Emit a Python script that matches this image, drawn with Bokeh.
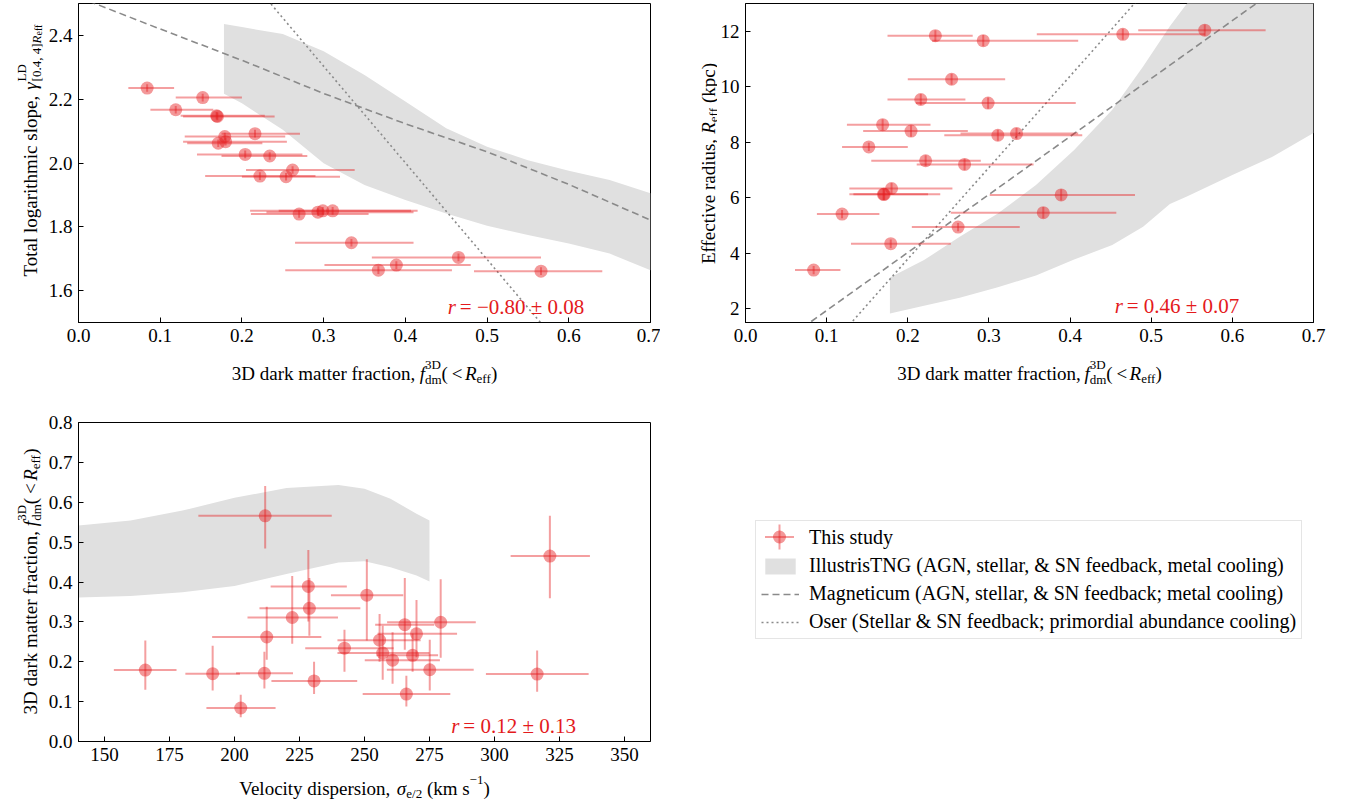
import math
from bokeh.plotting import figure
from bokeh.models import (Range1d, FixedTicker, PrintfTickFormatter, Label,
                          Legend, LegendItem, ColumnDataSource, Spacer)
from bokeh.layouts import row, column
from bokeh.embed import file_html
from bokeh.resources import INLINE
from bokeh.core.properties import value

FONT = "Liberation Serif"
RED = "#e41a1c"
BAND = "#e0e0e0"
GRAYLINE = "#8a8a8a"

# ---------------- data (one entry per galaxy) ----------------
fdm = [0.084, 0.119, 0.152, 0.169, 0.170, 0.171, 0.179, 0.180, 0.204, 0.216, 0.222, 0.234,
       0.254, 0.262, 0.270, 0.293, 0.299, 0.311, 0.334, 0.367, 0.389, 0.465, 0.566]
fdm_lo = [0.061, 0.088, 0.119, 0.125, 0.128, 0.133, 0.130, 0.128, 0.145, 0.175, 0.155, 0.175,
          0.200, 0.205, 0.211, 0.230, 0.210, 0.245, 0.265, 0.253, 0.301, 0.359, 0.484]
fdm_hi = [0.117, 0.165, 0.200, 0.228, 0.240, 0.225, 0.253, 0.255, 0.274, 0.271, 0.290, 0.280,
          0.320, 0.338, 0.355, 0.410, 0.407, 0.415, 0.410, 0.457, 0.480, 0.566, 0.641]
gamma = [2.235, 2.167, 2.205, 2.148, 2.146, 2.062, 2.083, 2.067, 2.027, 2.092, 1.959, 2.022,
         1.957, 1.978, 1.840, 1.846, 1.850, 1.850, 1.750, 1.664, 1.680, 1.704, 1.661]
gamma_err = [0.012, 0.012, 0.012, 0.012, 0.012, 0.012, 0.012, 0.012, 0.012, 0.012, 0.012, 0.012,
             0.012, 0.012, 0.012, 0.012, 0.012, 0.012, 0.012, 0.012, 0.012, 0.012, 0.012]
reff = [3.39, 5.41, 7.83, 8.63, 6.12, 6.12, 4.34, 6.33, 8.40, 9.54, 7.33, 11.84,
        10.27, 4.94, 7.20, 11.66, 9.41, 8.25, 8.31, 5.46, 6.10, 11.89, 12.04]
reff_err = [0.15, 0.15, 0.15, 0.2, 0.2, 0.2, 0.15, 0.2, 0.2, 0.2, 0.2, 0.2,
            0.2, 0.15, 0.2, 0.2, 0.2, 0.2, 0.2, 0.2, 0.2, 0.2, 0.2]
sigma = [202.4, 266.1, 230.6, 316.4, 191.6, 211.5, 165.7, 275.1, 260.8, 268.5, 257.0, 242.3,
         255.8, 212.4, 270.0, 265.5, 279.3, 222.2, 228.8, 250.9, 228.4, 321.3, 211.8]
sigma_lo = [189.2, 249.3, 214.2, 296.7, 181.1, 200.6, 153.6, 258.6, 250.1, 254.6, 239.6, 227.2,
            239.6, 191.4, 255.0, 254.1, 258.7, 205.0, 209.6, 237.1, 213.9, 306.2, 186.1]
sigma_hi = [215.8, 283.0, 247.2, 336.2, 202.1, 222.5, 177.7, 292.0, 279.0, 278.3, 275.0, 261.2,
            271.6, 233.4, 285.6, 276.8, 292.8, 239.8, 248.4, 264.9, 243.2, 336.7, 237.4]

# ---------------- tick labels ----------------
fdm_xticks = [0.0, 0.1, 0.2, 0.3, 0.4, 0.5, 0.6, 0.7]
gamma_ticks = [1.6, 1.8, 2.0, 2.2, 2.4]
reff_ticks = [2, 4, 6, 8, 10, 12]
sigma_ticks = [150, 175, 200, 225, 250, 275, 300, 325, 350]
fdm_yticks = [0.0, 0.1, 0.2, 0.3, 0.4, 0.5, 0.6, 0.7, 0.8]

# ---------------- simulation curves ----------------
tng1_x = [0.178, 0.2, 0.25, 0.3, 0.35, 0.4, 0.45, 0.5, 0.55, 0.6, 0.65, 0.7]
tng1_hi = [2.436, 2.426, 2.404, 2.350, 2.276, 2.193, 2.109, 2.051, 2.009, 1.976, 1.947, 1.905]
tng1_lo = [2.217, 2.187, 2.104, 1.999, 1.931, 1.884, 1.842, 1.803, 1.774, 1.748, 1.716, 1.664]
mag1_x = [0.0, 0.1, 0.2, 0.3, 0.4, 0.5, 0.6, 0.7]
mag1_y = [2.52, 2.42, 2.322, 2.218, 2.123, 2.035, 1.933, 1.821]
oser1_x = [0.2, 0.6]
oser1_y = [2.606, 1.395]

tng2_x = [0.178, 0.22, 0.264, 0.311, 0.358, 0.405, 0.452, 0.49, 0.523, 0.544, 0.6, 0.65, 0.7]
tng2_hi = [3.12, 3.75, 4.59, 5.43, 6.46, 7.72, 9.17, 10.73, 12.18, 13.0, 14.5, 15.5, 16.5]
tng2_lo = [1.82, 2.10, 2.39, 2.77, 3.19, 3.77, 4.29, 4.95, 5.77, 6.04, 6.82, 7.48, 8.33]
mag2_x = [0.07, 0.65]
mag2_y = [1.306, 13.43]
oser2_x = [0.12, 0.5]
oser2_y = [1.15, 13.68]

tng3_x = [140, 160, 180, 200, 220, 240, 250, 260, 270, 275]
tng3_hi = [0.542, 0.554, 0.579, 0.611, 0.636, 0.643, 0.634, 0.609, 0.571, 0.554]
tng3_lo = [0.361, 0.365, 0.374, 0.390, 0.420, 0.449, 0.452, 0.437, 0.416, 0.401]

r_texts = ["= \u22120.80 \u00b1 0.08", "= 0.46 \u00b1 0.07", "= 0.12 \u00b1 0.13"]

legend_labels = ["This study",
                 "IllustrisTNG (AGN, stellar, & SN feedback, metal cooling)",
                 "Magneticum (AGN, stellar, & SN feedback; metal cooling)",
                 "Oser (Stellar & SN feedback; primordial abundance cooling)"]

# ---------------- text metrics (Times / Liberation Serif) ----------------
ROMAN = {' ': 250, '\u2009': 167, '(': 333, ')': 333, ',': 250, '.': 250, '/': 278, ';': 278,
         '<': 564, '=': 564, '[': 333, ']': 333, '&': 778, '\u00b1': 564, '\u2212': 564, '-': 333}
for ch in "0123456789":
    ROMAN[ch] = 500
ROMAN.update(dict(zip("ABCDEFGHIJKLMNOPQRSTUVWXYZ",
                      [722, 667, 667, 722, 611, 556, 722, 722, 333, 389, 722, 611, 889, 722,
                       722, 556, 722, 667, 556, 611, 722, 722, 944, 722, 722, 611])))
ROMAN.update(dict(zip("abcdefghijklmnopqrstuvwxyz",
                      [444, 500, 444, 500, 444, 333, 500, 500, 278, 278, 500, 278, 778, 500,
                       500, 500, 500, 333, 389, 278, 500, 500, 722, 500, 500, 444])))
ITALIC = {'f': 278, 'r': 389, 'R': 611, '\u03b3': 440, '\u03c3': 500}
WS = ' \u2009'


def tw(s, italic, size):
    tbl = ITALIC if italic else ROMAN
    return sum(tbl.get(ch, ROMAN.get(ch, 500)) for ch in s) * size / 1000.0


def put(s, x, y, text, italic, size, angle, color="black"):
    s.text(x=[x], y=[y], text=[text], angle=angle, text_font=value(FONT),
           text_font_size=f"{size}px", text_font_style="italic" if italic else "normal",
           text_color=color, text_align="left", text_baseline="alphabetic")


def place(s, items, cx, cy, rotated=False, color="black"):
    """items: groups; each group is a list of runs; each run a list of pieces
    (text, italic, size, dy). A group advances by its widest run.
    Coordinates are pixels inside the strip's frame (origin bottom-left)."""
    def run_w(run):
        return sum(tw(t, it, sz) for (t, it, sz, dy) in run)
    total = sum(max(run_w(r) for r in g) for g in items)
    pos = -total / 2.0
    for g in items:
        for run in g:
            q = pos
            for (t, it, sz, dy) in run:
                shown = t.strip(WS)
                lead = t[:len(t) - len(t.lstrip(WS))]
                off = q + tw(lead, False, sz)
                if shown:
                    if rotated:
                        put(s, cx - dy, cy + off, shown, it, sz, math.pi / 2, color)
                    else:
                        put(s, cx + off, cy + dy, shown, it, sz, 0, color)
                q += tw(t, it, sz)
        pos += max(run_w(r) for r in g)


def strip(w, h, left=0, right=0):
    fw = w - left - right
    s = figure(width=w, height=h, x_range=Range1d(0, fw), y_range=Range1d(0, h),
               x_axis_type=None, y_axis_type=None, min_border=0,
               min_border_left=left, min_border_right=right,
               min_border_top=0, min_border_bottom=0,
               output_backend="svg", toolbar_location=None)
    s.outline_line_color = None
    s.grid.visible = False
    return s


def style(p, xt, yt, xfmt, yfmt):
    p.xaxis.ticker = FixedTicker(ticks=xt)
    p.yaxis.ticker = FixedTicker(ticks=yt)
    p.xaxis.formatter = PrintfTickFormatter(format=xfmt)
    p.yaxis.formatter = PrintfTickFormatter(format=yfmt)
    for ax in (p.xaxis[0], p.yaxis[0]):
        ax.axis_line_color = "black"
        ax.major_tick_line_color = "black"
        ax.major_tick_in = 5
        ax.major_tick_out = 0
        ax.minor_tick_in = 0
        ax.minor_tick_out = 0
        ax.major_label_text_font = FONT
        ax.major_label_text_font_size = "19px"
        ax.major_label_text_color = "black"
        ax.major_label_standoff = 6
    p.grid.visible = False
    p.outline_line_color = "black"
    p.outline_line_alpha = 1


def points(p, x, y, xlo, xhi, ylo, yhi):
    src = ColumnDataSource(dict(x=x, y=y, xlo=xlo, xhi=xhi, ylo=ylo, yhi=yhi))
    p.segment(x0="xlo", y0="y", x1="xhi", y1="y", source=src,
              line_color=RED, line_alpha=0.42, line_width=2)
    p.segment(x0="x", y0="ylo", x1="x", y1="yhi", source=src,
              line_color=RED, line_alpha=0.42, line_width=2)
    p.scatter("x", "y", source=src, size=13, fill_color=RED, fill_alpha=0.45,
              line_color=None)


def r_label(p, x, y, txt):
    p.add_layout(Label(x=x, y=y, text="r", text_font=FONT, text_font_style="italic",
                       text_font_size="21px", text_color=RED, text_baseline="alphabetic"))
    p.add_layout(Label(x=x, y=y, x_offset=12, text=txt, text_font=FONT,
                       text_font_size="21px", text_color=RED, text_baseline="alphabetic"))


fdm_label = [[[("3D dark matter fraction, ", False, 19, 0)]],
             [[("f", True, 19, 0)]],
             [[("3D", False, 13, 9)], [("dm", False, 13, -6)]],
             [[("(\u2009<\u2009", False, 19, 0)]],
             [[("R", True, 19, 0)]],
             [[("eff", False, 13, -5)]],
             [[(")", False, 19, 0)]]]

# ---------------- panel 1 ----------------
p1 = figure(width=615, height=352, x_range=Range1d(0, 0.7), y_range=Range1d(1.5, 2.5),
            output_backend="svg", toolbar_location=None,
            min_border_left=32, min_border_right=10, min_border_top=3, min_border_bottom=30)
style(p1, fdm_xticks, gamma_ticks, "%.1f", "%.1f")
p1.varea(x=tng1_x, y1=tng1_lo, y2=tng1_hi, fill_color=BAND)
p1.line(mag1_x, mag1_y, line_color=GRAYLINE, line_width=1.6, line_dash="7 4")
p1.line(oser1_x, oser1_y, line_color=GRAYLINE, line_width=1.6, line_dash="2 3")
points(p1, fdm, gamma, fdm_lo, fdm_hi,
       [g - e for g, e in zip(gamma, gamma_err)], [g + e for g, e in zip(gamma, gamma_err)])
r_label(p1, 0.452, 1.55, r_texts[0])

X1 = strip(615, 53, left=32, right=10)
place(X1, fdm_label, 286.5, 32)
Y1 = strip(45, 405)
place(Y1, [[[("Total logarithmic slope, ", False, 19, 0)]],
           [[("\u03b3", True, 19, 0)]],
           [[("LD", False, 13, 9)],
            [("[0.4, 4]", False, 13, -6), ("R", True, 13, -6), ("eff", False, 10, -8)]]],
      30, 255, rotated=True)

# ---------------- panel 2 ----------------
p2 = figure(width=616, height=352, x_range=Range1d(0, 0.7), y_range=Range1d(1.5, 13),
            output_backend="svg", toolbar_location=None,
            min_border_left=25, min_border_right=20, min_border_top=3, min_border_bottom=30)
style(p2, fdm_xticks, reff_ticks, "%.1f", "%d")
p2.varea(x=tng2_x, y1=tng2_lo, y2=tng2_hi, fill_color=BAND)
p2.line(mag2_x, mag2_y, line_color=GRAYLINE, line_width=1.6, line_dash="7 4")
p2.line(oser2_x, oser2_y, line_color=GRAYLINE, line_width=1.6, line_dash="2 3")
points(p2, fdm, reff, fdm_lo, fdm_hi,
       [r - e for r, e in zip(reff, reff_err)], [r + e for r, e in zip(reff, reff_err)])
r_label(p2, 0.455, 2.08, r_texts[1])

X2 = strip(616, 53, left=25, right=20)
place(X2, fdm_label, 285.5, 32)
Y2 = strip(57, 405)
place(Y2, [[[("Effective radius, ", False, 19, 0)]],
           [[("R", True, 19, 0)]],
           [[("eff", False, 13, -5)]],
           [[(" (kpc)", False, 19, 0)]]],
      48, 242, rotated=True)

# ---------------- panel 3 ----------------
p3 = figure(width=615, height=366, x_range=Range1d(140, 360), y_range=Range1d(0, 0.8),
            output_backend="svg", toolbar_location=None,
            min_border_left=32, min_border_right=10, min_border_top=17, min_border_bottom=30)
style(p3, sigma_ticks, fdm_yticks, "%d", "%.1f")
p3.varea(x=tng3_x, y1=tng3_lo, y2=tng3_hi, fill_color=BAND)
points(p3, sigma, fdm, sigma_lo, sigma_hi, fdm_lo, fdm_hi)
r_label(p3, 283.4, 0.040, r_texts[2])

X3 = strip(615, 28, left=32, right=10)
place(X3, [[[("Velocity dispersion, ", False, 19, 0)]],
           [[("\u03c3", True, 19, 0)]],
           [[("e/2", False, 13, -5)]],
           [[(" (km s", False, 19, 0)]],
           [[("\u22121", False, 13, 9)]],
           [[(")", False, 19, 0)]]],
      286.5, 11)
Y3 = strip(45, 394)
place(Y3, fdm_label, 30, 218, rotated=True)

# ---------------- legend panel ----------------
FW, FH = 558, 259
p4 = figure(width=673, height=279, x_range=Range1d(0, FW), y_range=Range1d(FH, 0),
            output_backend="svg", toolbar_location=None, x_axis_type=None, y_axis_type=None,
            min_border_left=95, min_border_top=0, min_border_right=20, min_border_bottom=20)
p4.outline_line_color = None
p4.grid.visible = False
off = ColumnDataSource(dict(x=[-50, -40], y=[-50, -50], y2=[-40, -40]))
l0 = p4.scatter("x", "y", source=off, size=13, fill_alpha=0, line_alpha=0)
lb = p4.varea(x="x", y1="y", y2="y2", source=off, fill_color=BAND)
ld = p4.line("x", "y", source=off, line_color=GRAYLINE, line_width=1.6, line_dash="7 4")
lo = p4.line("x", "y", source=off, line_color=GRAYLINE, line_width=1.6, line_dash="2 3")
# key for "This study": error-bar cross with a marker, drawn at the first legend row
key = ColumnDataSource(dict(x=[24], y=[16.5], x0=[9.5], x1=[38.5], y0=[4], y1=[29]))
p4.segment(x0="x0", y0="y", x1="x1", y1="y", source=key, line_color=RED, line_alpha=0.42,
           line_width=2)
p4.segment(x0="x", y0="y0", x1="x", y1="y1", source=key, line_color=RED, line_alpha=0.42,
           line_width=2)
p4.scatter("x", "y", source=key, size=13, fill_color=RED, fill_alpha=0.45, line_color=None)
leg = Legend(items=[LegendItem(label=legend_labels[0], renderers=[l0]),
                    LegendItem(label=legend_labels[1], renderers=[lb]),
                    LegendItem(label=legend_labels[2], renderers=[ld]),
                    LegendItem(label=legend_labels[3], renderers=[lo])],
             location="top_left", margin=0, padding=5, spacing=5,
             glyph_width=38, glyph_height=20, label_height=20, label_standoff=10,
             label_text_font=FONT, label_text_font_size="20px", label_text_color="black",
             border_line_color="#cccccc", border_line_width=1,
             background_fill_alpha=0)
p4.add_layout(leg)

layout = column(row(column(Y1), column(p1, X1), column(Y2), column(p2, X2)),
                row(column(Y3), column(p3, X3), column(Spacer(width=673, height=115), p4)))
open("out.html", "w").write(file_html(layout, INLINE))
